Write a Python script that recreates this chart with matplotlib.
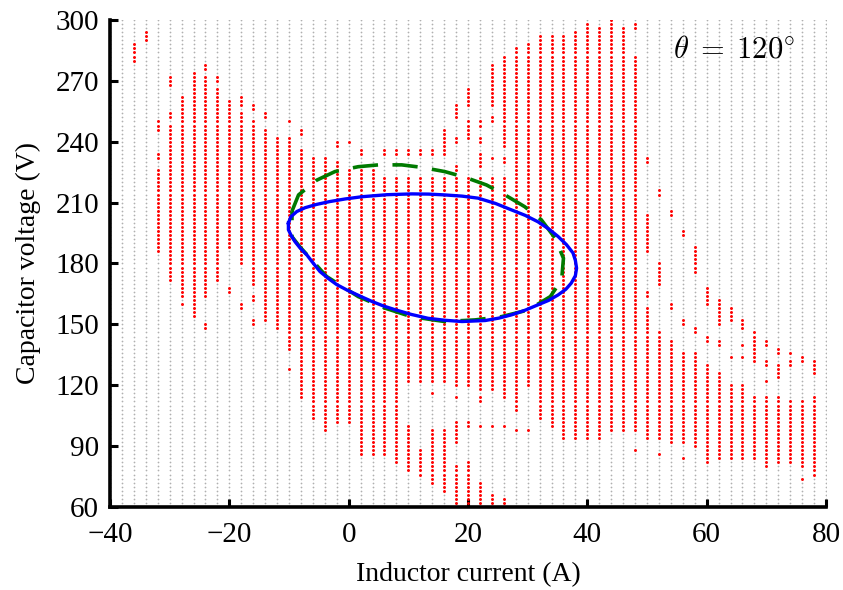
import numpy as np
import matplotlib
matplotlib.use("Agg")
import matplotlib.pyplot as plt

# sampling grid of initial states (inductor current, capacitor voltage)
grid_i = np.arange(-40, 81, 2)
grid_v = np.arange(60, 301, 2)

# red states, given per current column as (current, v_low, v_high)
red_spans = [
    (-36, 281, 288), (-34, 290, 293),
    (-32, 247, 249), (-32, 233, 233), (-32, 187, 225),
    (-30, 269, 271), (-30, 253, 253), (-30, 172, 247),
    (-28, 164, 262), (-28, 160, 160),
    (-26, 154, 273),
    (-24, 277, 277), (-24, 165, 271), (-24, 149, 149),
    (-22, 271, 271), (-22, 172, 266),
    (-20, 189, 259), (-20, 167, 167),
    (-18, 261, 261), (-18, 258, 258), (-18, 180, 253), (-18, 159, 159),
    (-16, 257, 257), (-16, 170, 249), (-16, 163, 163), (-16, 151, 151),
    (-14, 253, 253), (-14, 152, 245),
    (-12, 148, 241),
    (-10, 250, 250), (-10, 241, 241), (-10, 138, 237), (-10, 128, 128),
    (-8, 245, 245), (-8, 115, 235),
    (-6, 105, 231),
    (-4, 98, 231),
    (-2, 239, 239), (-2, 103, 229),
    (0, 240, 240), (0, 103, 225),
    (2, 235, 235), (2, 86, 225),
    (4, 86, 225),
    (6, 235, 235), (6, 86, 221),
    (8, 235, 235), (8, 82, 221),
    (10, 235, 235), (10, 78, 100), (10, 123, 221),
    (12, 235, 235), (12, 76, 88), (12, 123, 221),
    (14, 235, 235), (14, 72, 97), (14, 116, 116), (14, 123, 221),
    (16, 235, 245), (16, 68, 98), (16, 123, 221),
    (18, 253, 257), (18, 241, 241), (18, 227, 227), (18, 62, 80),
    (18, 92, 102), (18, 114, 114), (18, 120, 221),
    (20, 259, 266), (20, 242, 249), (20, 62, 81), (20, 100, 102), (20, 120, 221),
    (22, 249, 249), (22, 241, 241), (22, 229, 233), (22, 62, 72),
    (22, 100, 100), (22, 113, 113), (22, 119, 221),
    (24, 259, 277), (24, 251, 251), (24, 232, 232), (24, 62, 66),
    (24, 100, 100), (24, 119, 221),
    (26, 239, 281), (26, 231, 231), (26, 62, 64), (26, 100, 100), (26, 114, 221),
    (28, 113, 286), (28, 109, 109), (28, 98, 98),
    (30, 121, 287), (30, 98, 98),
    (32, 105, 291), (34, 100, 291), (36, 95, 291), (38, 94, 293),
    (40, 94, 297), (42, 94, 295), (44, 98, 299), (46, 98, 295),
    (48, 297, 297), (48, 98, 281), (48, 88, 88),
    (50, 231, 231), (50, 187, 203), (50, 165, 165), (50, 94, 157),
    (52, 215, 215), (52, 170, 179), (52, 94, 146), (52, 86, 86),
    (54, 205, 205), (54, 159, 160), (54, 92, 141),
    (56, 195, 195), (56, 151, 152), (56, 92, 136), (56, 84, 84),
    (58, 177, 187), (58, 146, 148), (58, 90, 135),
    (60, 161, 168), (60, 143, 143), (60, 82, 129),
    (62, 150, 161), (62, 141, 141), (62, 84, 125),
    (64, 152, 157), (64, 134, 134), (64, 84, 119),
    (66, 148, 151), (66, 140, 140), (66, 134, 134), (66, 84, 119),
    (68, 132, 146), (68, 84, 114),
    (70, 140, 142), (70, 131, 131), (70, 122, 122), (70, 80, 114),
    (72, 136, 138), (72, 124, 129), (72, 82, 113),
    (74, 136, 136), (74, 131, 131), (74, 82, 111),
    (76, 133, 133), (76, 80, 111), (76, 74, 74),
    (78, 126, 131), (78, 77, 113),
]

# closed trajectory (blue)
traj_i = [-10.1, -10.1, -9.6, -9.0, -8.1, -7.0, -5.9, -4.8, -3.4, -2.0, -0.2,
          2.0, 3.9, 5.8, 7.8, 10.5, 13.3, 16.2, 19.0, 22.9, 25.2, 27.3, 29.6,
          31.7, 33.5, 35.1, 36.4, 37.3, 38.0, 38.2, 38.0, 37.6, 36.5, 35.1,
          33.5, 31.7, 29.6, 27.3, 24.6, 21.7, 19.0, 16.1, 13.4, 10.6, 6.4,
          2.2, -0.6, -3.2, -5.4, -7.3, -8.7, -9.7, -10.1]
traj_v = [199.9, 196.6, 193.6, 190.8, 187.5, 184.2, 180.0, 176.0, 172.6,
          169.6, 166.8, 163.8, 161.3, 159.1, 157.2, 154.9, 153.0, 152.0,
          151.4, 151.9, 153.1, 154.7, 157.0, 159.6, 161.8, 164.5, 167.3,
          170.3, 174.0, 177.7, 181.5, 185.2, 189.3, 193.3, 197.1, 200.6,
          203.7, 206.4, 209.6, 212.2, 213.2, 213.8, 214.2, 214.3, 213.9,
          212.9, 211.8, 210.5, 209.1, 207.5, 205.6, 203.0, 199.9]

# estimated invariant ellipse (green dashed)
ell_i = [-9.5, -8.4, -5.4, -2.3, 1.6, 5.0, 8.9, 12.2, 16.1, 19.5, 23.1, 26.2,
         29.5, 32.3, 34.6, 36.0, 35.7, 33.8, 30.1, 25.6, 21.2, 16.1, 10.5,
         6.1, 1.6, -3.7, -8.2, -9.5, -9.5]
ell_v = [205.8, 213.8, 221.0, 225.3, 227.7, 228.6, 228.6, 227.4, 225.3, 222.5,
         218.7, 213.8, 208.0, 201.5, 192.5, 182.6, 172.0, 163.7, 157.1, 153.8,
         152.2, 151.4, 153.8, 158.0, 163.7, 173.6, 188.3, 193.2, 205.8]

x_ticks = [-40, -20, 0, 20, 40, 60, 80]
y_ticks = [60, 90, 120, 150, 180, 210, 240, 270, 300]

plt.rcParams['font.family'] = ['Liberation Serif', 'DejaVu Serif']
plt.rcParams['mathtext.fontset'] = 'cm'

fig = plt.figure(figsize=(8.43, 5.90), dpi=100)
ax = fig.add_axes([0.1305, 0.1407, 0.8493, 0.8254])

gi, gv = np.meshgrid(grid_i, grid_v)
gi = gi.ravel()
gv = gv.ravel()
ax.scatter(gi, gv, s=1.6, color='#b0b0b0', marker='o', linewidths=0, zorder=1)

is_red = np.zeros(gi.shape, dtype=bool)
for x, lo, hi in red_spans:
    is_red |= (gi == x) & (gv >= lo - 1) & (gv <= hi + 1)
ax.scatter(gi[is_red], gv[is_red], s=4.5, color='#ff0000', marker='o',
           linewidths=0, zorder=2)

ax.plot(ell_i, ell_v, color='#007a00', lw=2.6, dashes=(7, 4), zorder=3)
ax.plot(traj_i, traj_v, color='#0000ff', lw=2.4, zorder=4,
        solid_joinstyle='round')

ax.text(74.8, 285, r'$\theta\;=\;120^{\circ}$', ha='right', va='center',
        fontsize=22)

ax.set_xlim(-40, 80)
ax.set_ylim(60, 300)
ax.set_xticks(x_ticks)
ax.set_yticks(y_ticks)
ax.tick_params(direction='in', length=6, width=2.2, labelsize=21)
ax.tick_params(axis='x', pad=11)
ax.tick_params(axis='y', pad=8)
for side in ['top', 'right']:
    ax.spines[side].set_visible(False)
for side in ['left', 'bottom']:
    ax.spines[side].set_linewidth(2.6)
ax.set_xlabel('Inductor current (A)', fontsize=20, labelpad=10)
ax.set_ylabel('Capacitor voltage (V)', fontsize=20, labelpad=10)

fig.savefig('out.png', dpi=100)
